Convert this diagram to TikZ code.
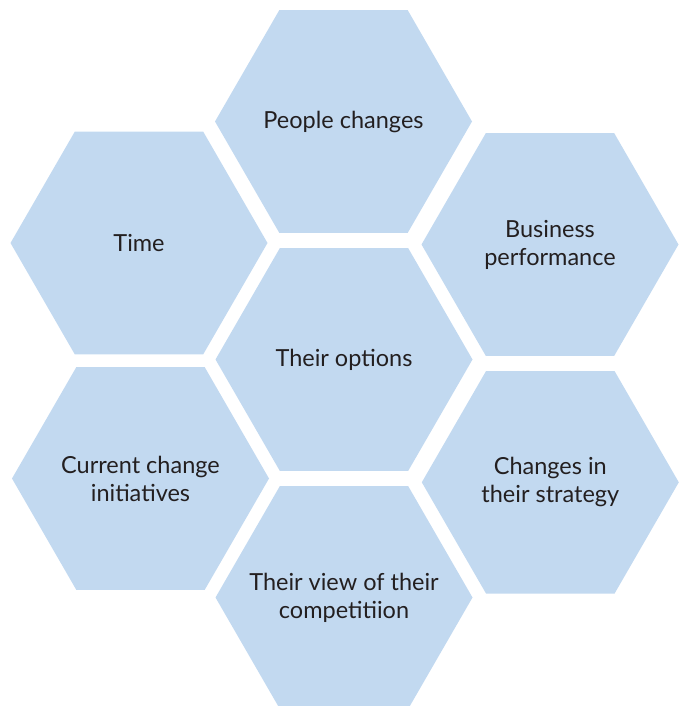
\documentclass[tikz,border=0pt]{standalone}
\usepackage{fontspec}
\setmainfont{Lato}
\usetikzlibrary{shapes.geometric}
\definecolor{hexblue}{HTML}{C2D9F0}
\definecolor{hextext}{HTML}{231F20}
\tikzset{
  hexcell/.style={regular polygon, regular polygon sides=6,
    minimum size=257pt, inner sep=0pt, fill=hexblue, draw=none},
  hexlabel/.style={text=hextext, align=center, inner sep=0pt,
    font=\fontsize{23.5}{28}\selectfont}
}
\begin{document}
\begin{tikzpicture}[x=1pt,y=-1pt]
\useasboundingbox (0,0) rectangle (683,706);
\node[hexcell, label={[hexlabel]center:People changes}] (people) at (343.5,121.5) {};
\node[hexcell, label={[hexlabel]center:Time}] (time) at (139,243) {};
\node[hexcell, label={[hexlabel]center:{Business\\performance}}] (business) at (550,244.5) {};
\node[hexcell, label={[hexlabel]center:Their options}] (options) at (344,359.5) {};
\node[hexcell, label={[hexlabel]center:{Current change\\initiatives}}] (current) at (140.5,478.5) {};
\node[hexcell, label={[hexlabel]center:{Changes in\\their strategy}}] (strategy) at (550.3,482.3) {};
\node[hexcell, label={[hexlabel]center:{Their view of their\\competitiion}}] (view) at (344,597.5) {};
\end{tikzpicture}
\end{document}
